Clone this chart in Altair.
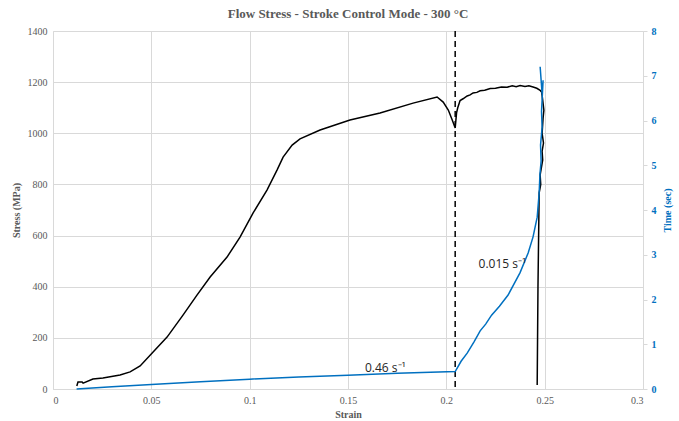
import altair as alt
import pandas as pd

# Stress curve (strain, MPa), in drawing order
stress_strain = [0.0121, 0.0127, 0.0148, 0.0153, 0.0203, 0.0254, 0.0341, 0.0392, 0.0443, 0.0509,
                 0.058, 0.0661, 0.0732, 0.0799, 0.0885, 0.0951, 0.1017, 0.1088, 0.1139, 0.117,
                 0.1216, 0.1256, 0.1358, 0.151, 0.1663, 0.1831, 0.1953, 0.1984, 0.201, 0.203,
                 0.2045, 0.2052, 0.2058, 0.207, 0.2085, 0.2106, 0.2121, 0.2136, 0.2155, 0.2172,
                 0.2195, 0.2223, 0.2250, 0.2280, 0.2309, 0.2335, 0.2355, 0.2375, 0.2400, 0.2420,
                 0.2441, 0.2460, 0.2477, 0.2485, 0.249, 0.2496, 0.2492, 0.2487, 0.2494, 0.2487,
                 0.2490, 0.2477, 0.2480, 0.2472, 0.2466, 0.2462]
stress_mpa = [12, 27, 27, 23, 39, 43, 55, 67, 90, 145,
              203, 289, 367, 438, 516, 594, 688, 778, 856, 907,
              954, 978, 1013, 1052, 1079, 1118, 1142, 1122, 1091, 1052,
              1021, 1080, 1100, 1128, 1135, 1146, 1150, 1158, 1160, 1166,
              1168, 1175, 1176, 1181, 1180, 1186, 1182, 1187, 1183, 1186,
              1181, 1176, 1168, 1160, 1130, 1090, 1060, 1000, 962, 930,
              896, 837, 800, 767, 400, 16]

# Time curve (strain, seconds)
time_strain = [0.012, 0.03, 0.05, 0.075, 0.1, 0.125, 0.15, 0.175, 0.2045, 0.2075,
               0.2106, 0.214, 0.2172, 0.220, 0.223, 0.227, 0.2314, 0.2375, 0.2416, 0.2441,
               0.2462, 0.2472, 0.2476, 0.2482, 0.2479, 0.2487, 0.2484, 0.2492, 0.2487, 0.2477]
time_sec = [0.00, 0.05, 0.10, 0.16, 0.22, 0.27, 0.31, 0.35, 0.39, 0.62,
            0.80, 1.05, 1.30, 1.45, 1.65, 1.85, 2.10, 2.60, 3.04, 3.40,
            3.84, 4.38, 4.80, 5.10, 5.45, 5.85, 6.20, 6.90, 6.60, 7.20]

switch_strain = [0.2045]
label_text = ["0.46 s⁻¹", "0.015 s⁻¹"]
label_strain = [0.169, 0.2285]
label_time = [0.47, 2.8]

x_ticks = [0, 0.05, 0.1, 0.15, 0.2, 0.25, 0.3]
left_ticks = [0, 200, 400, 600, 800, 1000, 1200, 1400]
right_ticks = [0, 1, 2, 3, 4, 5, 6, 7, 8]

GRAY = "#595959"
GRID = "#d9d9d9"
BLUE = "#0070C0"
SERIF = "Liberation Serif"

stress_df = pd.DataFrame({"strain": stress_strain, "stress": stress_mpa, "idx": range(len(stress_mpa))})
time_df = pd.DataFrame({"strain": time_strain, "time": time_sec, "idx": range(len(time_sec))})
rule_df = pd.DataFrame({"strain": switch_strain})
label_df = pd.DataFrame({"strain": label_strain, "time": label_time, "text": label_text})

xscale = alt.Scale(domain=[0, 0.3], nice=False)
lscale = alt.Scale(domain=[0, 1400], nice=False)
rscale = alt.Scale(domain=[0, 8], nice=False)

xaxis = alt.Axis(values=x_ticks, format="~g", title="Strain", grid=True, ticks=False,
                 labelFont=SERIF, labelPadding=6, titlePadding=4)
laxis = alt.Axis(values=left_ticks, format="d", title="Stress (MPa)", grid=True, ticks=False,
                 labelFont=SERIF, labelPadding=6, titlePadding=6)
raxis = alt.Axis(orient="right", values=right_ticks, format="d", title="Time (sec)", grid=False,
                 ticks=True, tickColor=GRID, tickSize=4, labelFontWeight="bold",
                 labelFont=SERIF, labelColor=BLUE, titleColor=BLUE, titleAngle=270,
                 titleBaseline="top", labelPadding=4, titlePadding=6)

stress_line = alt.Chart(stress_df).mark_line(color="black", strokeWidth=1.5).encode(
    x=alt.X("strain:Q", scale=xscale, axis=xaxis),
    y=alt.Y("stress:Q", scale=lscale, axis=laxis),
    order="idx:Q",
)

rule = alt.Chart(rule_df).mark_rule(color="black", strokeWidth=1.5, strokeDash=[6, 4]).encode(
    x=alt.X("strain:Q", scale=xscale, axis=xaxis)
)

left = alt.layer(stress_line, rule)

time_line = alt.Chart(time_df).mark_line(color=BLUE, strokeWidth=1.5).encode(
    x=alt.X("strain:Q", scale=xscale, axis=xaxis),
    y=alt.Y("time:Q", scale=rscale, axis=raxis),
    order="idx:Q",
)

labels = alt.Chart(label_df).mark_text(font="Open Sans", fontSize=12, color="#262626",
                                       align="center", baseline="middle").encode(
    x=alt.X("strain:Q", scale=xscale, axis=xaxis),
    y=alt.Y("time:Q", scale=rscale, axis=raxis),
    text="text:N",
)

right = alt.layer(time_line, labels)

chart = alt.layer(left, right).resolve_scale(y="independent").properties(
    width=590, height=358,
    title=alt.TitleParams("Flow Stress - Stroke Control Mode - 300 °C", font=SERIF,
                          fontSize=13, fontWeight="bold", color=GRAY, offset=5),
    autosize=alt.AutoSizeParams(type="none"),
    padding={"left": 53, "top": 31, "right": 36, "bottom": 32},
).configure_view(stroke=None).configure_axis(
    labelFont=SERIF, labelFontSize=10, labelColor=GRAY,
    titleFont=SERIF, titleFontSize=10, titleFontWeight="bold", titleColor=GRAY,
    gridColor=GRID, domainColor=GRID,
)

chart.save("out.html", embed_options={"renderer": "svg", "actions": False})
